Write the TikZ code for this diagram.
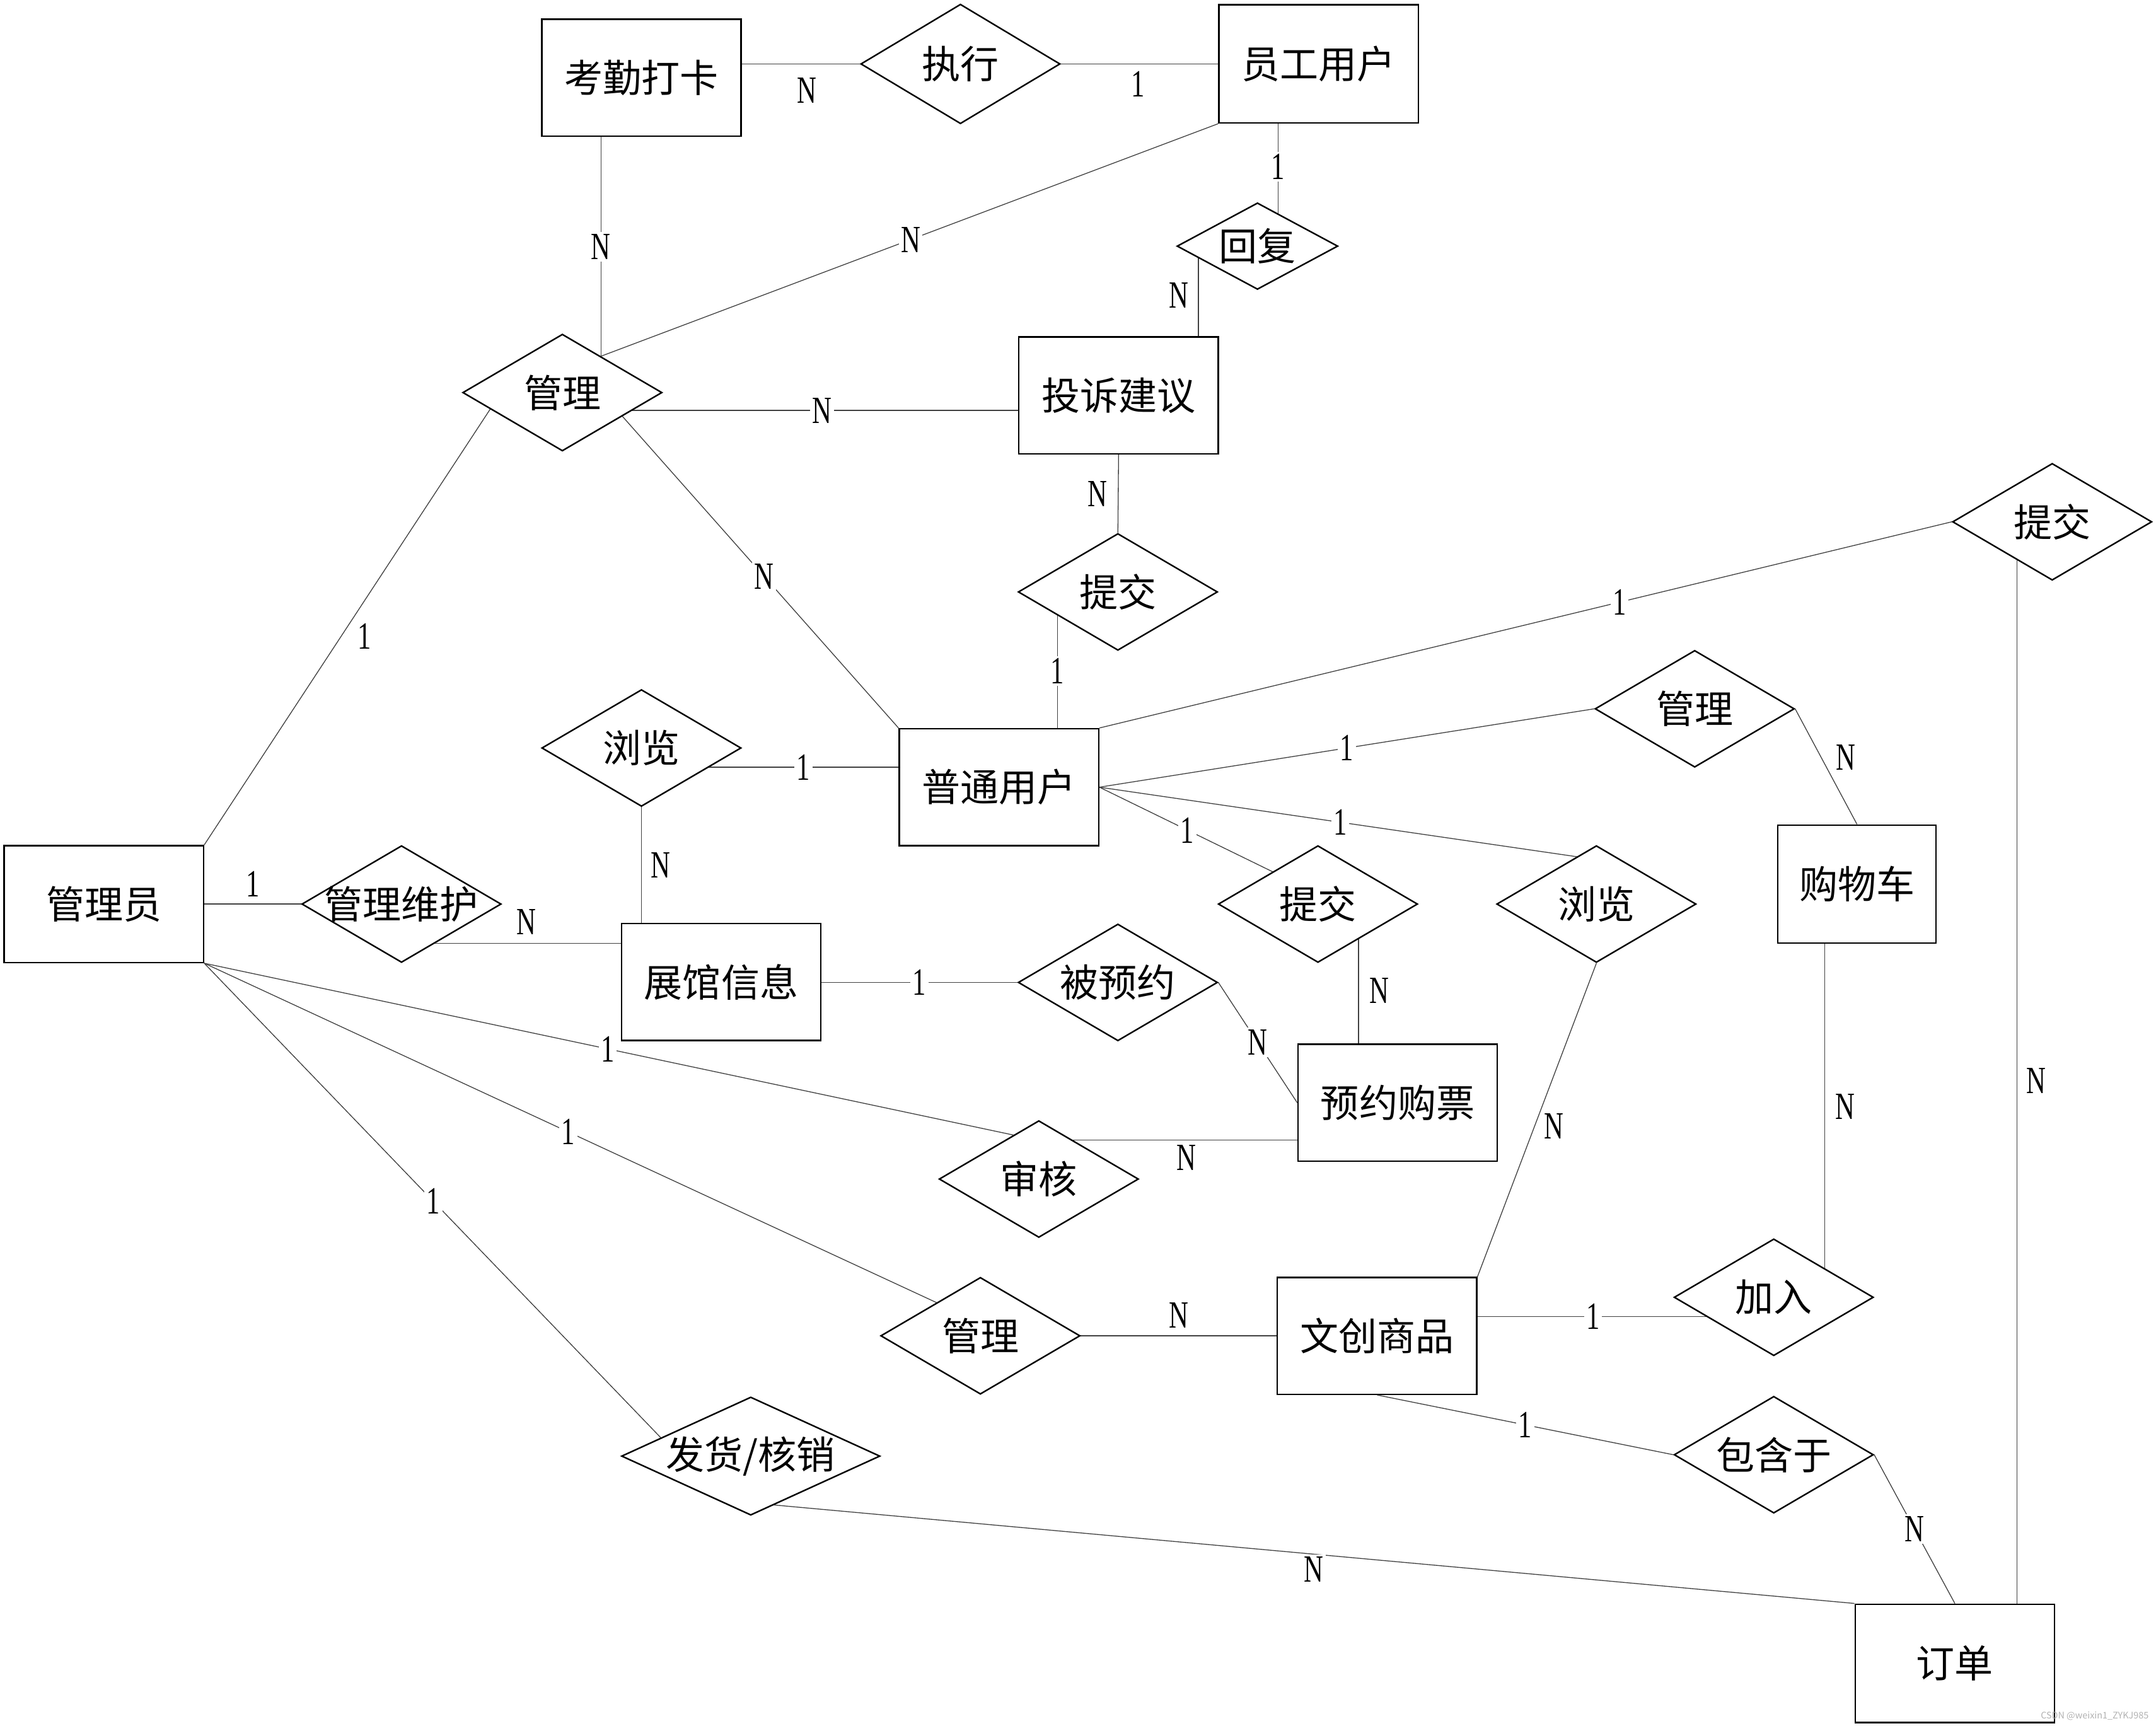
\documentclass[tikz,border=0pt]{standalone}
\usepackage{fontspec}
\setmainfont{Noto Sans CJK SC}
\newfontfamily\labfont[FakeStretch=0.7]{Liberation Serif}
\usetikzlibrary{shapes.geometric,backgrounds}
\newcommand\zw[1]{\makebox[0pt]{#1}}
\begin{document}
\begin{tikzpicture}[x=0.5pt,y=-0.5pt,
  ent/.style={draw=black, line width=0.55pt, fill=white, rectangle, minimum width=72.5pt, minimum height=42.5pt, inner sep=0pt, font=\fontsize{14}{16}\selectfont},
  rel/.style={draw=black, line width=0.55pt, fill=white, diamond, minimum width=72.5pt, minimum height=42.5pt, inner sep=0pt, font=\fontsize{14}{16}\selectfont},
  conn/.style={draw=black!75, line width=0.3pt},
  lab/.style={fill=white, inner sep=0.8pt, text=black, font=\labfont\fontsize{14}{14}\selectfont}
]
\useasboundingbox (0,0) rectangle (1568,1255.3);

% entities
\node[ent] (kq) at (466.5,56.5) {考勤打卡};
\node[ent, minimum height=43pt] (yg) at (959,46.4) {员工用户};
\node[ent] (ts) at (813.5,287.5) {投诉建议};
\node[ent] (pt) at (726.5,572.5) {普通用户};
\node[ent] (gly) at (75.5,657.5) {管理员};
\node[ent] (zg) at (524.5,714.2) {展馆信息};
\node[ent] (yy) at (1016.5,802) {预约购票};
\node[ent, minimum width=57.5pt, minimum height=43pt] (gwc) at (1350.5,643) {购物车};
\node[ent] (wc) at (1001.5,971.5) {文创商品};
\node[ent, minimum height=43pt] (dd) at (1421.7,1209.7) {订单};

% relationships
\node[rel, minimum height=43.5pt] (zx) at (698.5,46.5) {\zw{执行}};
\node[rel, minimum width=58.5pt, minimum height=31.5pt] (hf) at (914.5,179) {\zw{回复}};
\node[rel] (gl1) at (409,285.5) {\zw{管理}};
\node[rel] (tj1) at (813,430.5) {\zw{提交}};
\node[rel] (tj2) at (1492.5,379.5) {\zw{提交}};
\node[rel] (ll1) at (466.5,544) {\zw{浏览}};
\node[rel] (gl2) at (1232.5,515.5) {\zw{管理}};
\node[rel] (glwh) at (292,657.5) {\zw{管理维护}};
\node[rel] (tj3) at (958.5,657.5) {\zw{提交}};
\node[rel] (ll2) at (1161,657.5) {\zw{浏览}};
\node[rel] (by) at (813,714.5) {\zw{被预约}};
\node[rel] (sh) at (755.5,857.5) {\zw{审核}};
\node[rel] (gl3) at (713,971.5) {\zw{管理}};
\node[rel] (jr) at (1290,943.5) {\zw{加入}};
\node[rel, minimum width=94pt, minimum height=43pt] (fh) at (546,1059) {\zw{发货/核销}};
\node[rel] (bh) at (1290,1058) {\zw{包含于}};

\node[anchor=east, inner sep=0pt, text=black!30, font=\fontsize{3.3}{4}\selectfont] (wm) at (1563,1248) {CSDN @weixin1\_ZYKJ985};

\begin{pgfonlayer}{background}
\coordinate (a3) at ([xshift=-14.75pt]kq.south);
\coordinate (a5) at ([xshift=7.5pt]hf.center);
\coordinate (a6) at ([xshift=-21.5pt]hf.center);
\coordinate (a7) at ([yshift=-6.5pt]gl1.center);
\coordinate (a11) at ([xshift=-22pt]tj1.center);
\coordinate (a17) at ([yshift=-7pt]ll1.center);
\coordinate (a20) at ([yshift=-14.25pt]glwh.center);
\coordinate (a23) at ([xshift=14.75pt]tj3.center);
\coordinate (a25) at ([yshift=14.15pt]sh.center);
\coordinate (a31) at ([xshift=18.5pt]jr.center);
\coordinate (a32) at ([yshift=-7pt]jr.center);
\coordinate (a35) at ([xshift=-12.75pt]tj2.center);

\draw[conn] (kq.east |- zx) -- node[lab,pos=0.55,yshift=-9.75pt] (l1) {N} (zx.west);
\draw[conn] (zx.east) -- node[lab,pos=0.49,yshift=-7.25pt] (l2) {1} (zx.east -| yg.west);
\draw[conn] (a3) -- node[lab,pos=0.43] (l3) {N} (a3 |- gl1);
\draw[conn] (yg.south west) -- node[lab,pos=0.48] (l4) {N} ([shift={(11,-20)}]gl1.center);
\draw[conn] (a5 |- yg.south) -- node[lab,pos=0.35] (l5) {1} (a5);
\draw[conn] (a6) -- node[lab,pos=0.545,xshift=-7pt] (l6) {N} (a6 |- ts.north);
\draw[conn] (a7) -- node[lab,pos=0.57] (l7) {N} (a7 -| ts.west);
\draw[conn] (pt.north west) -- node[lab,pos=0.458] (l8) {N} ([shift={(31,3)}]gl1.center);
\draw[conn] (gly.north east) -- node[lab,pos=0.45,xshift=8.5pt] (l9) {1} ([shift={(-39,-8.5)}]gl1.center);
\draw[conn] (ts.south) -- node[lab,pos=0.5,xshift=-7.5pt] (l10) {N} (tj1.north);
\draw[conn] (a11) -- node[lab,pos=0.58] (l11) {1} (a11 |- pt.north);
\draw[conn] (pt.north east) -- node[lab,pos=0.61] (l12) {1} (tj2.west);
\draw[conn] (pt.east) -- node[lab,pos=0.5] (l13) {1} (gl2.west);
\draw[conn] (gl2.east) -- node[lab,pos=0.42,xshift=9pt] (l14) {N} (gwc.north);
\draw[conn] (pt.east) -- node[lab,pos=0.44] (l15) {1} ([shift={(-13.5,-14)}]tj3.center);
\draw[conn] (pt.east) -- node[lab,pos=0.486] (l16) {1} ([shift={(-1,-32.5)}]ll2.center);
\draw[conn] (a17) -- node[lab,pos=0.63] (l17) {1} (a17 -| pt.west);
\draw[conn] (ll1.south) -- node[lab,pos=0.5,xshift=7pt] (l18) {N} (ll1.south |- zg.north);
\draw[conn] (gly.east) -- node[lab,pos=0.5,yshift=7.25pt] (l19) {1} (glwh.west);
\draw[conn] (a20) -- node[lab,pos=0.57,yshift=7.75pt] (l20) {N} (a20 -| zg.west);
\draw[conn] (by.west -| zg.east) -- node[lab,pos=0.5] (l21) {1} (by.west);
\draw[conn] (by.east) -- node[lab,pos=0.5] (l22) {N} (yy.west);
\draw[conn] (a23) -- node[lab,pos=0.62,xshift=7.5pt] (l23) {N} (a23 |- yy.north);
\draw[conn] (gly.south east) -- node[lab,pos=0.484] (l24) {1} ([shift={(-0.5,-28.2)}]sh.center);
\draw[conn] (a25) -- node[lab,pos=0.57,yshift=-6.5pt] (l25) {N} (a25 -| yy.west);
\draw[conn] (gly.south east) -- node[lab,pos=0.48] (l26) {1} ([shift={(-12.8,-15.3)}]gl3.center);
\draw[conn] (gl3.east) -- node[lab,pos=0.5,yshift=7.35pt] (l27) {N} (gl3.east -| wc.west);
\draw[conn] (gly.south east) -- node[lab,pos=0.474] (l28) {1} ([shift={(-46,6.8)}]fh.center);
\draw[conn] (dd.north west) -- node[lab,pos=0.49,yshift=-5.5pt] (l29) {N} ([shift={(0,34)}]fh.center);
\draw[conn] (ll2.south) -- node[lab,pos=0.52,xshift=7pt] (l30) {N} (wc.north east);
\draw[conn] (a31 |- gwc.south) -- node[lab,pos=0.46,xshift=7.5pt] (l31) {N} (a31);
\draw[conn] (a32 -| wc.east) -- node[lab,pos=0.39] (l32) {1} (a32);
\draw[conn] (wc.south) -- node[lab,pos=0.5] (l33) {1} (bh.west);
\draw[conn] (bh.east) -- node[lab,pos=0.5] (l34) {N} (dd.north);
\draw[conn] (a35) -- node[lab,pos=0.517,xshift=7pt] (l35) {N} (a35 |- dd.north);
\end{pgfonlayer}
\end{tikzpicture}
\end{document}
